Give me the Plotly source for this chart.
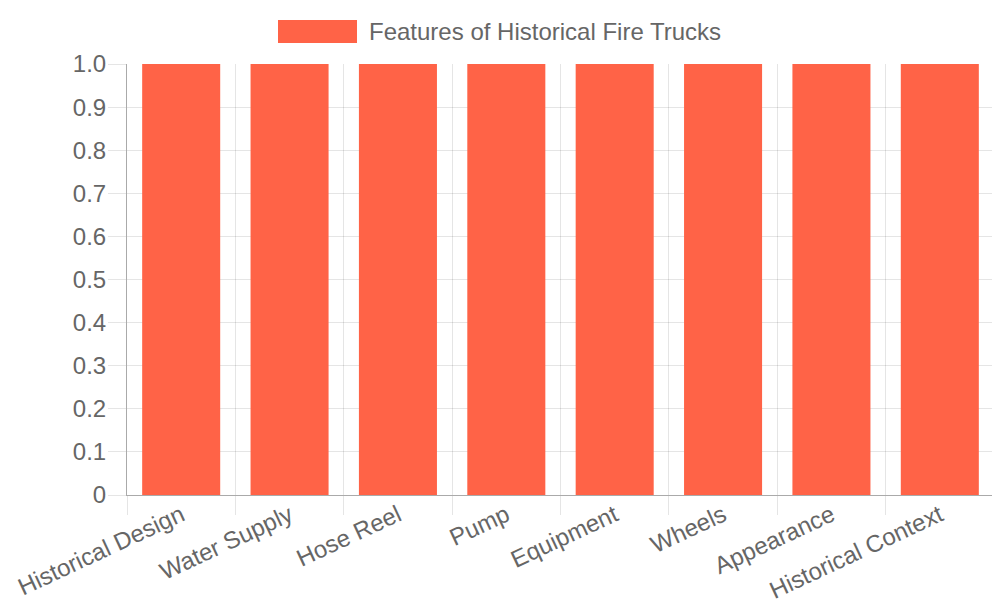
import plotly.graph_objects as go

categories = ["Historical Design", "Water Supply", "Hose Reel", "Pump",
              "Equipment", "Wheels", "Appearance", "Historical Context"]
values = [1, 1, 1, 1, 1, 1, 1, 1]
series_name = "Features of Historical Fire Trucks"
y_tickvals = [0, 0.1, 0.2, 0.3, 0.4, 0.5, 0.6, 0.7, 0.8, 0.9, 1.0]
y_ticktext = ["0", "0.1", "0.2", "0.3", "0.4", "0.5", "0.6", "0.7", "0.8", "0.9", "1.0"]

BAR = "#FF6347"
TXT = "#666666"
GRID = "rgba(0,0,0,0.1)"

fig = go.Figure(go.Bar(x=categories, y=values, name=series_name,
                       marker=dict(color=BAR, line=dict(width=0)),
                       showlegend=False))

# page has an 8px body margin, so margins are shifted by that much
fig.update_layout(
    width=1000, height=600,
    margin=dict(l=119, r=14, t=56, b=113, autoexpand=False),
    paper_bgcolor="white", plot_bgcolor="white",
    font=dict(family="Liberation Sans, Arial, sans-serif", size=24, color=TXT),
    bargap=0.28,
)

fig.update_xaxes(
    type="category", tickson="boundaries", automargin=False,
    showgrid=True, gridcolor=GRID, gridwidth=1,
    ticks="outside", ticklen=19, tickcolor=GRID,
    ticklabelstandoff=-4,
    tickangle=-25, tickfont=dict(size=24, color=TXT),
    showline=True, linecolor="#aaaaaa", linewidth=1,
)
fig.update_yaxes(
    range=[0, 1], tickvals=y_tickvals, ticktext=y_ticktext, automargin=False,
    showgrid=True, gridcolor=GRID, gridwidth=1,
    ticks="outside", ticklen=18, tickcolor=GRID,
    ticklabelstandoff=-3,
    tickfont=dict(size=24, color=TXT),
    showline=True, linecolor="#aaaaaa", linewidth=1,
    zeroline=False,
)

# chart.js style legend: wide colour box plus label
pw, ph = 867, 431
fig.add_shape(type="rect", xref="paper", yref="paper",
              x0=(278 - 127) / pw, x1=(357 - 127) / pw,
              y0=(495 - 43) / ph, y1=(495 - 20) / ph,
              fillcolor=BAR, line=dict(width=0))
fig.add_annotation(text=series_name, xref="paper", yref="paper",
                   x=(367 - 127) / pw, y=(495 - 31.5) / ph,
                   xanchor="left", yanchor="middle", showarrow=False,
                   font=dict(size=24, color=TXT))

fig.write_html("out.html")
